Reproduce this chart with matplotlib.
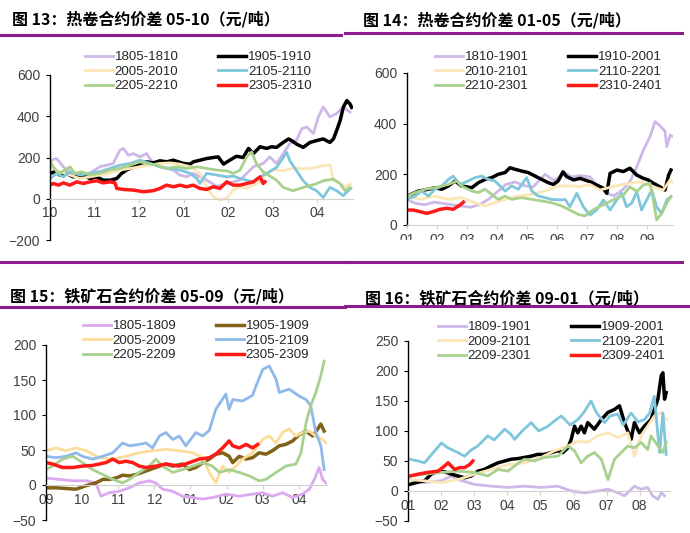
import matplotlib
matplotlib.use("Agg")
import matplotlib.pyplot as plt
from matplotlib.lines import Line2D
from matplotlib.patches import Rectangle

plt.rcParams['font.family'] = ['Liberation Sans', 'Noto Sans CJK SC', 'DejaVu Sans']

# ---------------- data (month index, value) ----------------
# fig 13: hot coil 05-10, months from Oct
hc0510_months = ['10', '11', '12', '01', '02', '03', '04']
hc0510_1805 = [(0, 187), (0.15, 195), (0.3, 155), (0.49, 123), (0.67, 106), (0.82, 115), (1.01, 139),
               (1.12, 155), (1.27, 163), (1.42, 171), (1.57, 235), (1.65, 244), (1.76, 211), (1.87, 219),
               (2.02, 203), (2.17, 219), (2.32, 171), (2.47, 155), (2.62, 147), (2.77, 139), (2.92, 115),
               (3.07, 106), (3.22, 123), (3.52, 90), (3.75, 60), (3.97, 74), (4.27, 90), (4.42, 123),
               (4.57, 155), (4.79, 171), (4.94, 203), (5.09, 171), (5.24, 219), (5.39, 268), (5.54, 284),
               (5.66, 340), (5.77, 348), (5.92, 316), (6.03, 397), (6.14, 445), (6.29, 397), (6.44, 413),
               (6.59, 445), (6.74, 420)]
hc0510_1905 = [(0, 123), (0.11, 131), (0.22, 115), (0.37, 123), (0.52, 106), (0.71, 115), (0.9, 98),
               (1.05, 106), (1.2, 90), (1.35, 90), (1.5, 98), (1.61, 123), (1.72, 139), (1.87, 155),
               (2.02, 171), (2.17, 179), (2.32, 174), (2.47, 184), (2.62, 179), (2.77, 187), (3.0, 171),
               (3.15, 168), (3.22, 179), (3.37, 187), (3.52, 195), (3.67, 200), (3.78, 203), (3.9, 168),
               (4.04, 187), (4.19, 206), (4.34, 200), (4.46, 244), (4.57, 219), (4.72, 252), (4.87, 244),
               (4.98, 252), (5.09, 249), (5.24, 273), (5.36, 290), (5.43, 282), (5.54, 265), (5.69, 249),
               (5.84, 273), (5.99, 282), (6.14, 290), (6.29, 273), (6.37, 290), (6.44, 330), (6.52, 379),
               (6.59, 443), (6.67, 476), (6.74, 460), (6.78, 443)]
hc0510_2005 = [(0, 155), (0.22, 131), (0.45, 115), (0.67, 98), (0.9, 106), (1.12, 115), (1.35, 123),
               (1.57, 139), (1.8, 147), (2.02, 155), (2.25, 163), (2.47, 171), (2.7, 174), (2.92, 168),
               (3.15, 155), (3.37, 123), (3.52, 58), (3.67, 10), (3.82, -6), (3.97, 2), (4.12, 42),
               (4.27, 58), (4.42, 50), (4.57, 66), (4.72, 82), (4.87, 123), (5.02, 140), (5.24, 135),
               (5.47, 150), (5.69, 145), (5.92, 150), (6.14, 160), (6.29, 165), (6.37, 90), (6.52, 74),
               (6.63, 58), (6.75, 70)]
hc0510_2105 = [(0, 98), (0.15, 123), (0.3, 106), (0.45, 131), (0.67, 115), (0.9, 123), (1.12, 131),
               (1.35, 147), (1.57, 163), (1.8, 171), (2.02, 187), (2.25, 171), (2.47, 155), (2.7, 147),
               (2.92, 139), (3.15, 123), (3.3, 98), (3.37, 74), (3.52, 123), (3.75, 115), (3.97, 106),
               (4.12, 110), (4.27, 98), (4.42, 90), (4.57, 82), (4.72, 106), (4.87, 123), (5.09, 152),
               (5.32, 225), (5.39, 184), (5.54, 136), (5.69, 87), (5.84, 55), (5.99, 39), (6.14, 6),
               (6.29, 55), (6.44, 39), (6.59, 15), (6.7, 39), (6.76, 50)]
hc0510_2205 = [(0, 187), (0.07, 155), (0.19, 123), (0.34, 139), (0.45, 155), (0.56, 123), (0.71, 131),
               (0.9, 115), (1.12, 123), (1.35, 139), (1.57, 147), (1.8, 163), (2.02, 179), (2.17, 171),
               (2.4, 163), (2.62, 147), (2.85, 155), (3.07, 147), (3.3, 155), (3.52, 147), (3.75, 139),
               (3.97, 135), (4.12, 123), (4.27, 139), (4.42, 203), (4.53, 227), (4.64, 170), (4.79, 130),
               (4.94, 110), (5.09, 90), (5.24, 55), (5.46, 39), (5.69, 55), (5.99, 73), (6.14, 87),
               (6.37, 95), (6.52, 73), (6.63, 39), (6.74, 55)]
hc0510_2305 = [(0, 66), (0.07, 74), (0.19, 66), (0.3, 77), (0.45, 66), (0.6, 82), (0.75, 74), (0.9, 82),
               (1.05, 87), (1.2, 77), (1.35, 82), (1.46, 77), (1.5, 50), (1.65, 45), (1.87, 42), (2.1, 34),
               (2.32, 39), (2.47, 50), (2.62, 66), (2.77, 58), (2.92, 66), (3.07, 58), (3.22, 66),
               (3.37, 50), (3.52, 45), (3.67, 58), (3.82, 50), (3.97, 82), (4.12, 66), (4.27, 66),
               (4.42, 74), (4.57, 82), (4.72, 106), (4.79, 74), (4.83, 82)]

# fig 14: hot coil 01-05, months from Jan
hc0105_months = ['01', '02', '03', '04', '05', '06', '07', '08', '09']
hc0105_1810 = [(0, 100), (0.3, 85), (0.6, 80), (0.9, 90), (1.2, 85), (1.5, 80), (1.8, 75), (2.1, 70),
               (2.4, 80), (2.7, 100), (3.0, 130), (3.3, 160), (3.6, 170), (3.9, 155), (4.2, 150),
               (4.6, 200), (4.9, 175), (5.27, 205), (5.5, 190), (5.77, 195), (6.1, 190), (6.35, 155),
               (6.66, 125), (6.9, 115), (7.2, 140), (7.45, 175), (7.66, 230), (7.88, 296), (8.1, 349),
               (8.27, 408), (8.45, 390), (8.6, 370), (8.66, 309), (8.77, 355), (8.83, 350)]
hc0105_1910 = [(0, 114), (0.38, 134), (0.71, 141), (0.93, 147), (1.16, 141), (1.38, 154), (1.6, 174),
               (1.82, 154), (2.16, 147), (2.38, 167), (2.6, 180), (2.82, 187), (3.04, 200), (3.27, 207),
               (3.43, 226), (3.6, 220), (3.82, 213), (4.04, 207), (4.27, 193), (4.49, 180), (4.71, 167),
               (4.88, 160), (5.04, 174), (5.2, 210), (5.32, 191), (5.55, 178), (5.77, 184), (6.1, 171),
               (6.32, 158), (6.55, 145), (6.66, 125), (6.77, 204), (7.0, 217), (7.21, 211), (7.43, 224),
               (7.66, 197), (7.88, 184), (8.04, 178), (8.21, 165), (8.43, 151), (8.6, 138), (8.72, 197),
               (8.8, 217)]
hc0105_2010 = [(0, 114), (0.44, 101), (0.93, 114), (1.38, 101), (1.82, 108), (2.27, 88), (2.6, 75),
               (2.93, 88), (3.27, 101), (3.71, 114), (4.16, 121), (4.6, 134), (5.04, 154), (5.49, 154),
               (5.77, 151), (6.1, 160), (6.43, 138), (6.8, 150), (7.1, 158), (7.45, 165), (7.77, 171),
               (8.0, 160), (8.21, 151), (8.54, 138), (8.77, 178), (8.83, 170)]
hc0105_2110 = [(0, 101), (0.27, 114), (0.49, 134), (0.71, 114), (0.93, 141), (1.16, 154), (1.38, 180),
               (1.54, 193), (1.77, 160), (2.04, 174), (2.27, 187), (2.49, 193), (2.71, 180), (2.93, 174),
               (3.1, 154), (3.27, 134), (3.49, 154), (3.71, 141), (3.99, 187), (4.16, 134), (4.38, 114),
               (4.6, 108), (4.82, 101), (5.1, 99), (5.27, 101), (5.43, 72), (5.66, 125), (5.88, 72),
               (6.1, 39), (6.32, 59), (6.55, 99), (6.77, 59), (6.99, 99), (7.16, 125), (7.32, 72),
               (7.49, 86), (7.66, 132), (7.82, 59), (7.99, 99), (8.16, 138), (8.32, 72), (8.49, 46),
               (8.66, 99), (8.8, 112)]
hc0105_2210 = [(0, 114), (0.27, 128), (0.6, 141), (0.93, 147), (1.16, 154), (1.38, 160), (1.66, 174),
               (1.82, 154), (2.16, 134), (2.38, 128), (2.6, 141), (2.82, 121), (3.04, 101), (3.27, 114),
               (3.49, 101), (3.82, 108), (4.16, 101), (4.49, 95), (4.82, 88), (5.16, 75), (5.49, 55),
               (5.71, 42), (5.93, 36), (6.21, 60), (6.55, 80), (6.88, 100), (7.21, 118), (7.43, 151),
               (7.66, 132), (7.88, 158), (8.1, 165), (8.21, 99), (8.32, 20), (8.49, 46), (8.66, 86),
               (8.8, 112)]
hc0105_2310 = [(0, 59), (0.2, 59), (0.43, 53), (0.66, 46), (0.88, 53), (1.1, 62), (1.32, 66), (1.54, 62),
               (1.77, 79), (1.88, 90)]

# fig 15: iron ore 05-09, months from Sep
io0509_months = ['09', '10', '11', '12', '01', '02', '03', '04']
io0509_1805 = [(0, 10), (0.37, 8), (0.74, 6), (1.11, 6), (1.38, 3), (1.52, -16), (1.75, -11), (2.03, -9),
               (2.31, -4), (2.58, 3), (2.86, 6), (3.04, 3), (3.23, -6), (3.51, -9), (3.78, -16),
               (4.06, -18), (4.34, -20), (4.61, -18), (4.98, -13), (5.35, -16), (5.72, -13), (6.0, -11),
               (6.27, -16), (6.55, -11), (6.83, -18), (7.1, -13), (7.29, -6), (7.43, 8), (7.56, 25),
               (7.66, 8), (7.75, 3)]
io0509_1905 = [(0, -4), (0.28, -4), (0.55, -5), (0.83, -6), (1.11, -1), (1.38, 3), (1.57, 8), (1.75, 8),
               (1.94, 10), (2.12, 14), (2.31, 13), (2.49, 15), (2.77, 20), (3.04, 25), (3.32, 30),
               (3.51, 27), (3.78, 30), (3.97, 22), (4.15, 25), (4.34, 32), (4.52, 37), (4.7, 44),
               (4.89, 46), (5.07, 41), (5.17, 32), (5.35, 41), (5.54, 37), (5.72, 39), (5.9, 46),
               (6.09, 44), (6.27, 49), (6.46, 56), (6.64, 58), (6.83, 63), (7.01, 72), (7.2, 77),
               (7.38, 70), (7.52, 80), (7.61, 87), (7.7, 77)]
io0509_2005 = [(0, 49), (0.28, 53), (0.55, 49), (0.83, 53), (1.11, 49), (1.48, 39), (1.85, 37), (2.21, 41),
               (2.58, 46), (2.95, 49), (3.32, 51), (3.69, 49), (4.06, 46), (4.34, 39), (4.52, 18), (4.7, 3),
               (4.89, 27), (5.07, 18), (5.26, 27), (5.44, 37), (5.72, 46), (6.0, 65), (6.18, 70),
               (6.37, 60), (6.55, 75), (6.73, 80), (6.92, 70), (7.1, 75), (7.29, 77), (7.47, 70),
               (7.66, 65), (7.75, 60)]
io0509_2105 = [(0, 41), (0.28, 39), (0.55, 41), (0.83, 46), (1.01, 41), (1.29, 37), (1.57, 41), (1.85, 46),
               (2.12, 60), (2.31, 56), (2.58, 58), (2.77, 60), (2.95, 53), (3.14, 70), (3.32, 75),
               (3.51, 65), (3.69, 70), (3.87, 56), (4.15, 75), (4.34, 70), (4.52, 78), (4.7, 108),
               (4.98, 130), (5.07, 108), (5.17, 122), (5.44, 120), (5.72, 128), (5.81, 141), (6.0, 165),
               (6.18, 170), (6.37, 151), (6.46, 132), (6.73, 137), (7.01, 127), (7.2, 122), (7.33, 113),
               (7.47, 75), (7.61, 56), (7.7, 22)]
io0509_2205 = [(0, 22), (0.18, 27), (0.46, 37), (0.74, 41), (1.01, 32), (1.29, 22), (1.57, 15), (1.85, 8),
               (2.12, 3), (2.31, 8), (2.58, 18), (2.86, 27), (3.04, 37), (3.23, 27), (3.51, 18),
               (3.78, 22), (4.06, 27), (4.34, 32), (4.61, 27), (4.8, 18), (5.07, 22), (5.35, 18),
               (5.63, 13), (5.9, 6), (6.09, 8), (6.37, 18), (6.64, 27), (6.92, 30), (7.06, 46), (7.2, 89),
               (7.33, 113), (7.47, 132), (7.61, 156), (7.7, 177)]
io0509_2305 = [(0, 32), (0.18, 30), (0.46, 25), (0.74, 25), (1.01, 27), (1.29, 28), (1.48, 30), (1.66, 32),
               (1.85, 37), (2.03, 32), (2.21, 34), (2.4, 32), (2.58, 27), (2.77, 25), (3.04, 27),
               (3.32, 30), (3.69, 27), (3.97, 32), (4.24, 37), (4.52, 39), (4.7, 44), (4.89, 53),
               (5.07, 63), (5.17, 56), (5.35, 53), (5.54, 58), (5.72, 53), (5.86, 58)]

# fig 16: iron ore 09-01, months from Jan
io0901_months = ['01', '02', '03', '04', '05', '06', '07', '08']
io0901_1809 = [(0.05, 19), (0.5, 14), (1.01, 17), (1.31, 25), (1.51, 19), (2.01, 11), (2.52, 8), (3.02, 6),
               (3.52, 8), (4.02, 6), (4.53, 8), (4.93, 0), (5.33, -3), (5.73, 0), (6.04, 3), (6.34, -3),
               (6.54, -8), (6.84, 8), (7.04, 3), (7.24, 6), (7.39, -8), (7.55, -14), (7.65, -3),
               (7.75, -8)]
io0901_1909 = [(0.05, 11), (0.25, 14), (0.5, 17), (0.7, 28), (0.91, 33), (1.11, 32), (1.31, 28),
               (1.51, 25), (1.71, 22), (1.91, 25), (2.11, 33), (2.31, 36), (2.52, 42), (2.72, 47),
               (2.92, 50), (3.12, 53), (3.32, 54), (3.52, 56), (3.72, 58), (3.92, 61), (4.12, 61),
               (4.33, 64), (4.53, 67), (4.68, 64), (4.83, 72), (4.93, 86), (5.03, 108), (5.13, 97),
               (5.23, 108), (5.33, 97), (5.43, 114), (5.63, 103), (5.84, 119), (6.04, 131), (6.24, 136),
               (6.39, 142), (6.54, 114), (6.74, 86), (6.84, 114), (6.99, 97), (7.14, 108), (7.34, 119),
               (7.55, 153), (7.65, 192), (7.7, 197), (7.75, 153), (7.8, 164)]
io0901_2009 = [(0.05, 19), (0.5, 17), (1.01, 14), (1.51, 19), (2.01, 28), (2.52, 36), (3.02, 44),
               (3.52, 47), (4.02, 56), (4.43, 67), (4.83, 75), (5.13, 83), (5.43, 81), (5.73, 92),
               (6.04, 97), (6.34, 89), (6.64, 97), (6.84, 58), (7.04, 92), (7.24, 108), (7.44, 125),
               (7.65, 131), (7.8, 119)]
io0901_2109 = [(0.05, 53), (0.3, 50), (0.5, 47), (0.7, 60), (1.01, 80), (1.2, 72), (1.51, 64), (1.71, 58),
               (1.9, 68), (2.11, 75), (2.41, 92), (2.6, 85), (2.92, 103), (3.1, 95), (3.22, 86),
               (3.45, 100), (3.72, 114), (3.95, 100), (4.23, 108), (4.45, 118), (4.63, 125), (4.9, 110),
               (5.13, 119), (5.3, 130), (5.53, 150), (5.7, 130), (5.94, 114), (6.1, 125), (6.34, 128),
               (6.5, 110), (6.74, 130), (6.95, 115), (7.14, 119), (7.3, 130), (7.44, 158), (7.6, 64),
               (7.7, 130), (7.8, 61)]
io0901_2209 = [(0.05, 25), (0.5, 28), (1.01, 31), (1.51, 33), (2.01, 31), (2.41, 25), (2.72, 36),
               (3.02, 33), (3.22, 42), (3.52, 53), (3.82, 50), (4.12, 56), (4.53, 58), (4.83, 75),
               (5.03, 67), (5.23, 47), (5.43, 58), (5.63, 64), (5.84, 53), (6.04, 19), (6.24, 53),
               (6.44, 64), (6.64, 75), (6.84, 72), (7.04, 81), (7.24, 69), (7.34, 92), (7.55, 75),
               (7.7, 64), (7.8, 81)]
io0901_2309 = [(0.05, 25), (0.3, 28), (0.6, 31), (0.91, 33), (1.11, 42), (1.21, 47), (1.41, 36),
               (1.56, 39), (1.71, 39), (1.86, 44), (1.96, 50)]

LAV = '#CDB8E8'
YEL = '#FCE6B8'
BLU = '#7EC6DC'
GRN = '#A9D18E'
RED = '#FF1A1A'
PURPLE = '#8C1C8C'
GRID = '#D0D0D0'

W, H = 690, 533
fig = plt.figure(figsize=(6.9, 5.33), dpi=100)


def fx(px):
    return px / W


def fy(py):
    return 1 - py / H


def make_ax(x0, x1, ytop, ybot, months, xmax, ylim, yticks):
    ax = fig.add_axes([fx(x0), fy(ybot), fx(x1) - fx(x0), fy(ytop) - fy(ybot)])
    ax.set_xlim(0, xmax)
    ax.set_ylim(*ylim)
    for s in ['top', 'right']:
        ax.spines[s].set_visible(False)
    ax.spines['bottom'].set_position(('data', 0))
    ax.spines['bottom'].set_color(GRID)
    ax.spines['left'].set_color('black')
    ax.spines['left'].set_linewidth(1.0)
    ax.set_xticks(range(len(months)))
    ax.set_xticklabels(months)
    ax.set_yticks(yticks)
    ax.tick_params(axis='x', colors=GRID, length=3, pad=2.5, labelsize=10, labelcolor='#404040')
    ax.tick_params(axis='y', colors='black', length=3, pad=4, labelsize=10, labelcolor='#404040')
    ax.set_facecolor('none')
    return ax


def draw(ax, series):
    handles = []
    for label, pts, color, lw in series:
        xs = [p[0] for p in pts]
        ys = [p[1] for p in pts]
        h, = ax.plot(xs, ys, color=color, lw=lw, label=label, solid_joinstyle='round')
        handles.append(h)
    return handles


def legend(ax, handles, x_px, y_px):
    order = [0, 2, 4, 1, 3, 5]
    hs = [handles[i] for i in order]
    fig.legend(hs, [h.get_label() for h in hs], loc='upper left',
               bbox_to_anchor=(fx(x_px), fy(y_px)), ncol=2, frameon=False, fontsize=9.5,
               handlelength=2.1, handletextpad=0.15, columnspacing=3.0, labelspacing=0.18,
               borderpad=0, borderaxespad=0, labelcolor='#262626')


def title(text, x_px, y_px):
    fig.text(fx(x_px), fy(y_px), text, family=['Noto Sans CJK SC', 'DejaVu Sans'],
             weight='heavy', fontsize=11.5, va='center', ha='left', color='black')


def rule(x0, x1, y):
    fig.add_artist(Line2D([fx(x0), fx(x1)], [fy(y), fy(y)], color=PURPLE, lw=2.2,
                          transform=fig.transFigure))


# ---- fig 13
ax1 = make_ax(50, 352.6, 75, 240, hc0510_months, 6.8, (-200, 600), [-200, 0, 200, 400, 600])
h1 = draw(ax1, [('1805-1810', hc0510_1805, LAV, 2.0), ('1905-1910', hc0510_1905, 'black', 2.5),
                ('2005-2010', hc0510_2005, YEL, 2.0), ('2105-2110', hc0510_2105, BLU, 2.0),
                ('2205-2210', hc0510_2205, GRN, 2.0), ('2305-2310', hc0510_2305, RED, 2.5)])
legend(ax1, h1, 85, 51)
title('图 13：热卷合约价差 05-10（元/吨）', 12, 19)
rule(0, 341, 35)
rule(0, 345, 262)

# ---- fig 14
ax2 = make_ax(407, 672.5, 73, 225, hc0105_months, 8.85, (0, 600), [0, 200, 400, 600])
h2 = draw(ax2, [('1810-1901', hc0105_1810, LAV, 2.0), ('1910-2001', hc0105_1910, 'black', 2.5),
                ('2010-2101', hc0105_2010, YEL, 2.0), ('2110-2201', hc0105_2110, BLU, 2.0),
                ('2210-2301', hc0105_2210, GRN, 2.0), ('2310-2401', hc0105_2310, RED, 2.5)])
legend(ax2, h2, 435, 51)
title('图 14：热卷合约价差 01-05（元/吨）', 363, 20)
rule(345, 682, 33)
rule(345, 682, 262)
# the source image cuts these month labels in half
fig.add_artist(Rectangle((fx(385), fy(258)), fx(690) - fx(385), fy(240.5) - fy(258),
                         transform=fig.transFigure, color='white', zorder=10))

# ---- fig 15
ax3 = make_ax(46, 327, 345, 520, io0509_months, 7.78, (-50, 200), [-50, 0, 50, 100, 150, 200])
h3 = draw(ax3, [('1805-1809', io0509_1805, '#DCA8F0', 2.0), ('1905-1909', io0509_1905, '#826216', 2.5),
                ('2005-2009', io0509_2005, '#FBDC98', 2.0), ('2105-2109', io0509_2105, '#8EB9EA', 2.0),
                ('2205-2209', io0509_2205, GRN, 2.0), ('2305-2309', io0509_2305, RED, 2.5)])
legend(ax3, h3, 83, 320)
title('图 15：铁矿石合约价差 05-09（元/吨）', 10, 296)
rule(0, 345, 307)

# ---- fig 16
ax4 = make_ax(408, 669.5, 341, 521, io0901_months, 7.9, (-50, 250), [-50, 0, 50, 100, 150, 200, 250])
h4 = draw(ax4, [('1809-1901', io0901_1809, LAV, 2.0), ('1909-2001', io0901_1909, 'black', 2.5),
                ('2009-2101', io0901_2009, YEL, 2.0), ('2109-2201', io0901_2109, BLU, 2.0),
                ('2209-2301', io0901_2209, GRN, 2.0), ('2309-2401', io0901_2309, RED, 2.5)])
legend(ax4, h4, 438, 321)
title('图 16：铁矿石合约价差 09-01（元/吨）', 365, 298)
rule(345, 688, 306)

fig.savefig('out.png', dpi=100)
